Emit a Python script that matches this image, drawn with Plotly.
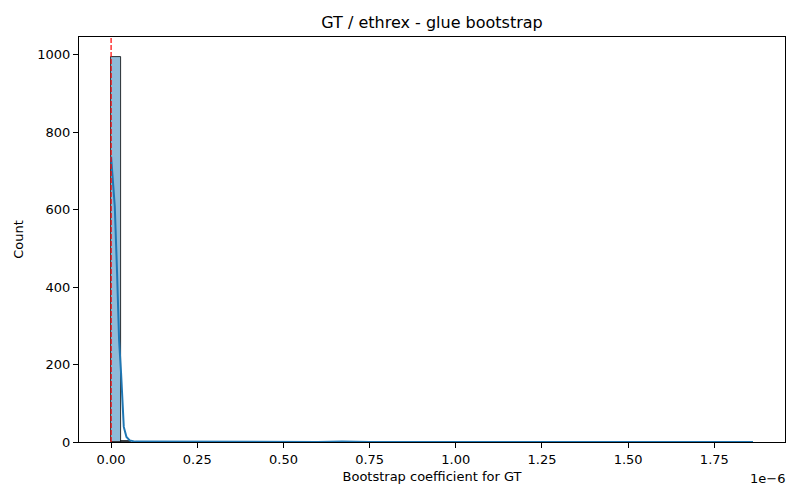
import plotly.graph_objects as go

# x values are in units of 1e-6 (matplotlib offset text shows "1e-6")
bin_width = 0.0291
bin_starts = [0.0, 0.0291, 0.1164, 0.6691, 1.8329]
bin_counts = [994, 3, 1, 1, 1]

kde_x = [0.0, 0.004, 0.0107, 0.0174, 0.0232, 0.029, 0.033, 0.0368, 0.0446, 0.054,
         0.07, 0.2, 0.6, 0.67, 0.75, 1.0, 1.5, 1.862]
kde_y = [737, 694, 608, 435, 263, 177, 90, 39, 13, 4,
         1, 0.5, 0.3, 1.5, 0.3, 0.2, 0.2, 0.3]

ref_x = 0.0
xticks = [0, 0.25, 0.5, 0.75, 1.0, 1.25, 1.5, 1.75]

font = "DejaVu Sans"

fig = go.Figure()
fig.add_trace(go.Bar(
    x=[s + bin_width / 2 for s in bin_starts], y=bin_counts, width=bin_width,
    marker=dict(color="rgba(31,119,180,0.5)", line=dict(color="black", width=0.8)),
    showlegend=False,
))
fig.add_trace(go.Scatter(
    x=kde_x, y=kde_y, mode="lines",
    line=dict(color="#1f77b4", width=2), showlegend=False,
))
fig.add_vline(x=ref_x, line=dict(color="red", width=1.2, dash="5px,2px"))

axis = dict(showline=True, linecolor="black", linewidth=1, mirror=True,
            ticks="outside", ticklen=5, tickcolor="black", showgrid=False,
            zeroline=False, automargin=False,
            tickfont=dict(size=13, color="black"))

# page body adds an 8px offset, so the figure is a bit smaller than the window
fig.update_layout(
    width=784, height=484,
    margin=dict(l=71, r=7, t=29, b=50),
    plot_bgcolor="white", paper_bgcolor="white",
    font=dict(family=font, color="black", size=13),
    title=dict(text="GT / ethrex - glue bootstrap", x=(432 - 8) / 784,
               xanchor="center", y=1 - 14 / 484, yref="container",
               yanchor="middle", font=dict(size=16)),
    bargap=0,
    xaxis=dict(axis, range=[-0.0931, 1.955], tickvals=xticks, tickformat=".2f",
               title=dict(text="Bootstrap coefficient for GT", standoff=6,
                          font=dict(size=13))),
    yaxis=dict(axis, range=[0, 1046], dtick=200,
               title=dict(text="Count", standoff=10, font=dict(size=13))),
)
fig.add_annotation(text="1e\u22126", xref="paper", yref="paper", x=1, y=0,
                   xanchor="right", yanchor="top", yshift=-27, xshift=2,
                   showarrow=False, font=dict(size=13))

fig.write_html("out.html")
